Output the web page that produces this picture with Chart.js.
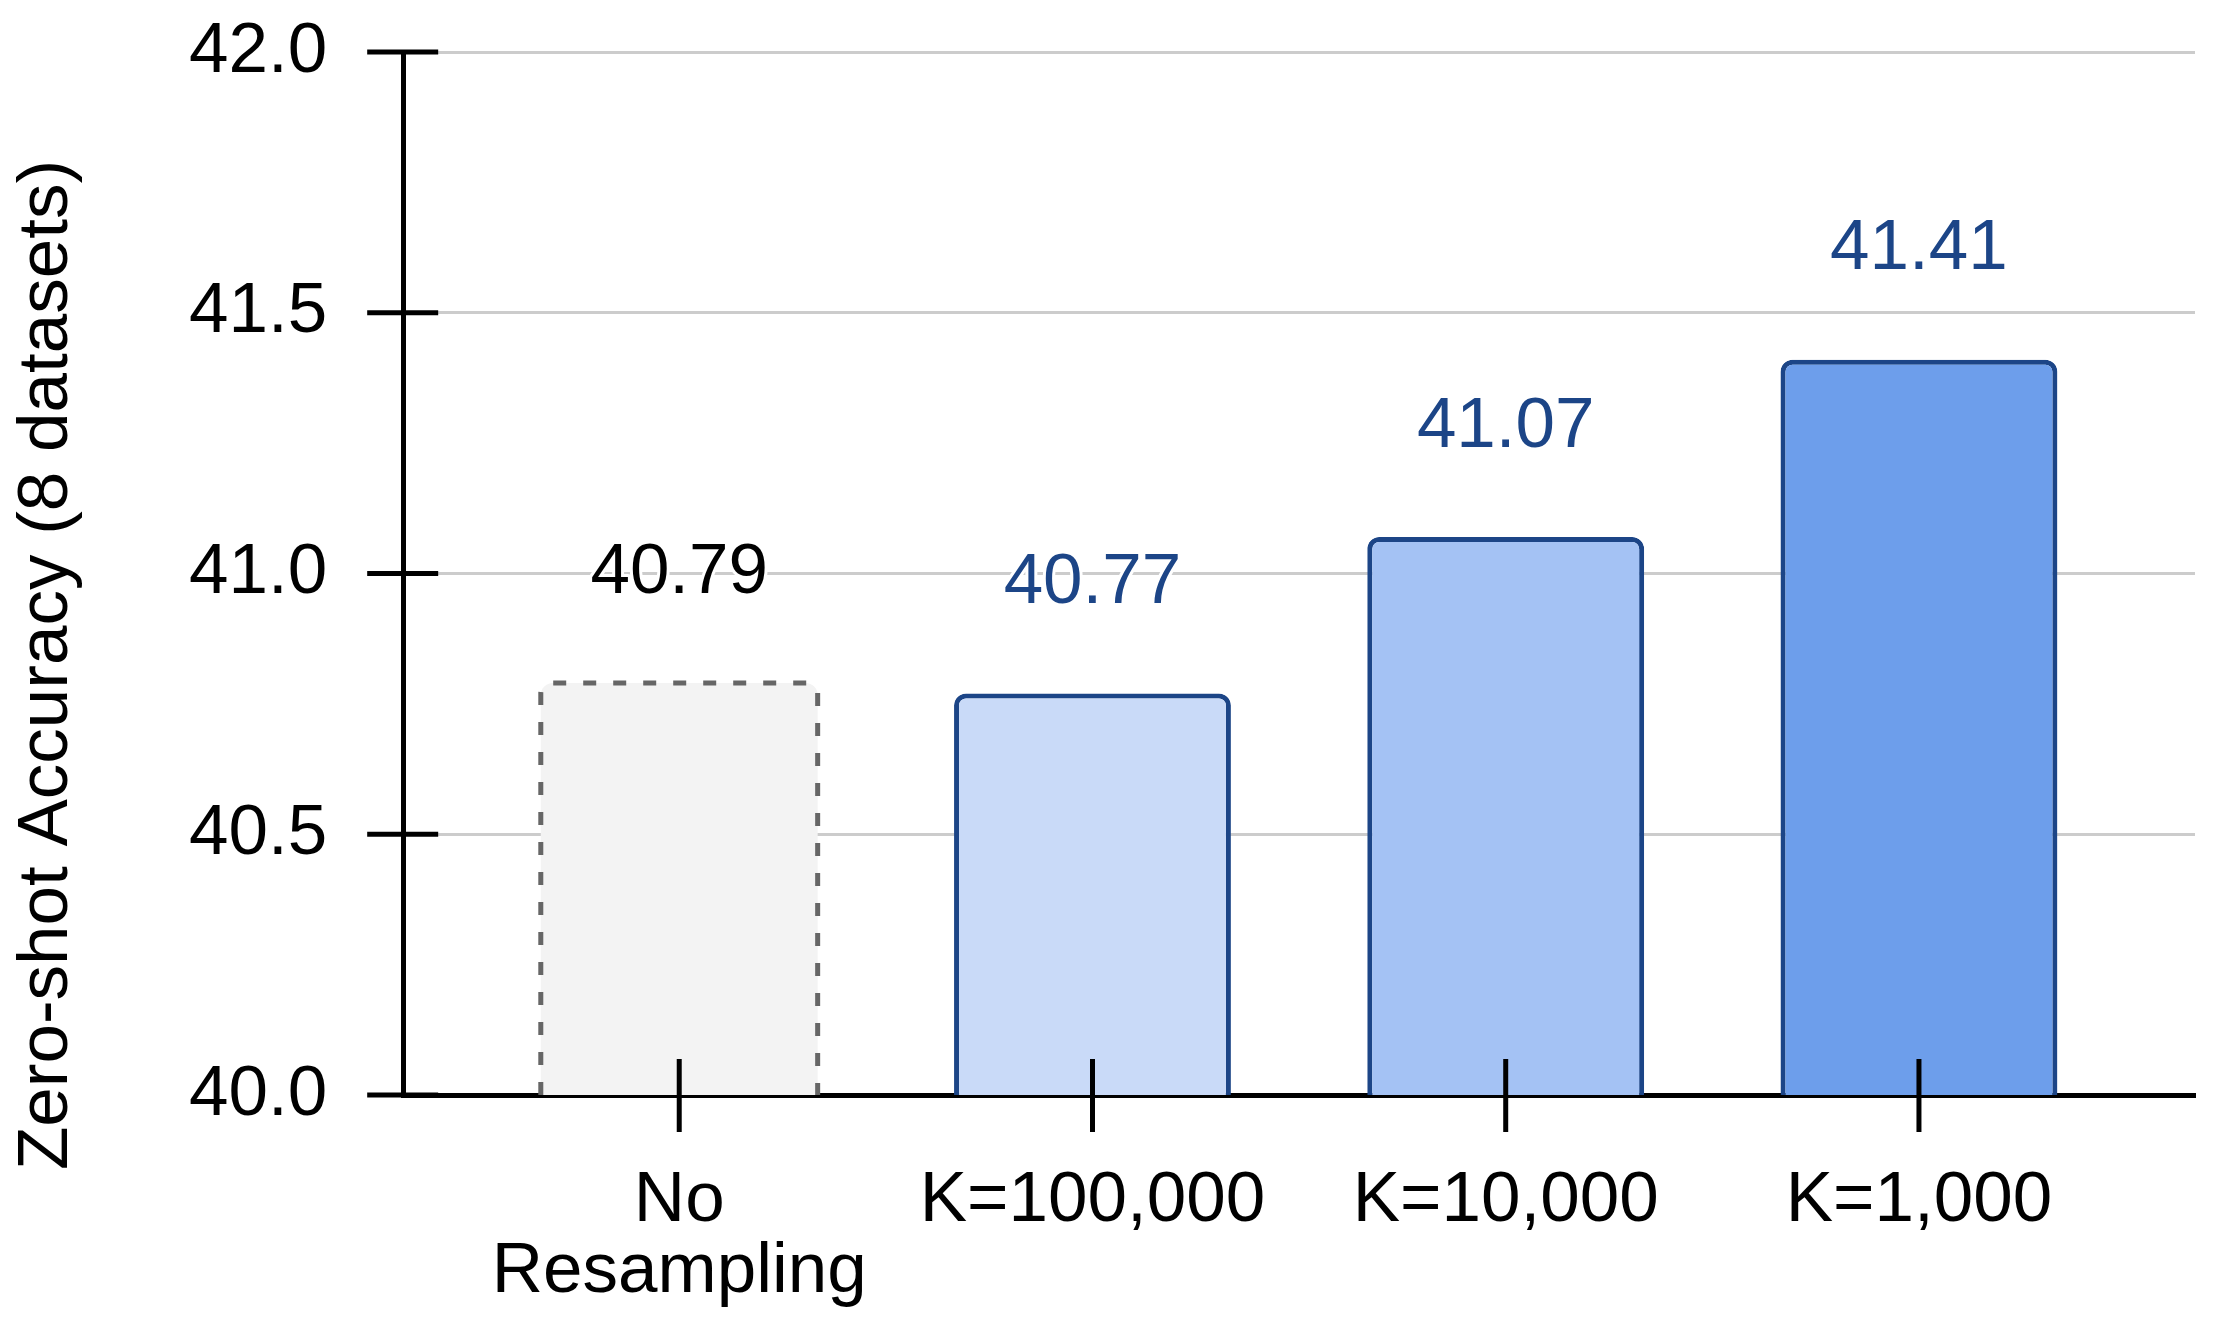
<!DOCTYPE html>
<html>
<head>
<meta charset="utf-8">
<script src="https://cdn.jsdelivr.net/npm/chart.js@4"></script>
<style>
  html, body { margin: 0; padding: 0; background: #ffffff; }
</style>
</head>
<body>
<canvas id="accChart" width="2218" height="1330"></canvas>
<script>
// データ
const labels = [['No', 'Resampling'], 'K=100,000', 'K=10,000', 'K=1,000'];
const accuracy = [40.79, 40.77, 41.07, 41.41];
const yTicks = [40.0, 40.5, 41.0, 41.5, 42.0];
const yTitle = 'Zero-shot Accuracy (8 datasets)';

// 見た目
const FONT = '"Liberation Sans", Arial, Helvetica, sans-serif';
const fillColors = ['#f3f3f3', '#c9daf8', '#a4c2f4', '#6d9eeb'];
const borderColors = ['rgba(0,0,0,0)', '#1c4587', '#1c4587', '#1c4587'];
const borderWidths = [0, 5, 5, 5];
const valueColors = ['#000000', '#1c4587', '#1c4587', '#1c4587'];

// 破線の枠・数値ラベル・軸の目盛り・y軸タイトル
const decorPlugin = {
    id: 'decor',
    afterDatasetsDraw(chart) {
        const ctx = chart.ctx;
        const area = chart.chartArea;
        const meta = chart.getDatasetMeta(0);

        // "No Resampling" は破線の枠
        const b = meta.data[0].getProps(['x', 'y', 'base', 'width'], true);
        const l = b.x - b.width / 2, r = b.x + b.width / 2, rad = 10;
        const base = Math.min(b.base, area.bottom);
        ctx.save();
        ctx.strokeStyle = '#666666';
        ctx.lineWidth = 5;
        ctx.setLineDash([13, 17]);
        ctx.beginPath();
        ctx.moveTo(l, base);
        ctx.lineTo(l, b.y + rad);
        ctx.arcTo(l, b.y, l + rad, b.y, rad);
        ctx.lineTo(r - rad, b.y);
        ctx.arcTo(r, b.y, r, b.y + rad, rad);
        ctx.lineTo(r, base);
        ctx.stroke();
        ctx.restore();

        // 数値ラベル
        ctx.save();
        ctx.font = `71px ${FONT}`;
        ctx.textAlign = 'center';
        ctx.textBaseline = 'middle';
        ctx.lineJoin = 'round';
        meta.data.forEach((bar, i) => {
            const p = bar.getProps(['x', 'y'], true);
            const txt = accuracy[i].toFixed(2);
            ctx.strokeStyle = '#ffffff';
            ctx.lineWidth = 6;
            ctx.strokeText(txt, p.x, p.y - 110);
            ctx.fillStyle = valueColors[i];
            ctx.fillText(txt, p.x, p.y - 110);
        });
        ctx.restore();
    },
    afterDraw(chart) {
        const { ctx, chartArea, scales: { x, y } } = chart;
        ctx.save();
        ctx.strokeStyle = '#000000';
        ctx.lineWidth = 5;
        ctx.setLineDash([]);
        // y軸の目盛り（軸をまたぐ）
        yTicks.forEach(v => {
            const py = y.getPixelForValue(v);
            ctx.beginPath();
            ctx.moveTo(chartArea.left - 36, py);
            ctx.lineTo(chartArea.left + 35, py);
            ctx.stroke();
        });
        // x軸の目盛り
        labels.forEach((_, i) => {
            const px = x.getPixelForValue(i);
            ctx.beginPath();
            ctx.moveTo(px, chartArea.bottom - 36);
            ctx.lineTo(px, chartArea.bottom + 37);
            ctx.stroke();
        });
        // y軸タイトル
        ctx.translate(47, 665);
        ctx.rotate(-Math.PI / 2);
        ctx.font = `71px ${FONT}`;
        ctx.fillStyle = '#000000';
        ctx.textAlign = 'center';
        ctx.textBaseline = 'middle';
        ctx.fillText(yTitle, 0, 0);
        ctx.restore();
    }
};

new Chart(document.getElementById('accChart').getContext('2d'), {
    type: 'bar',
    data: {
        datasets: [{
            data: accuracy.map((v, i) => ({ x: i, y: v })),
            backgroundColor: fillColors,
            borderColor: borderColors,
            borderWidth: borderWidths,
            borderRadius: 12,
            borderSkipped: 'start',
            barPercentage: 0.67,
            categoryPercentage: 1.0
        }]
    },
    options: {
        responsive: false,
        animation: false,
        devicePixelRatio: 1,
        layout: { padding: { left: 113, right: 23, top: 52, bottom: 0 } },
        plugins: {
            legend: { display: false },
            tooltip: { enabled: false }
        },
        scales: {
            x: {
                type: 'linear',
                offset: false,
                min: -0.668,
                max: 3.668,
                z: 1,
                afterBuildTicks: s => { s.ticks = labels.map((_, i) => ({ value: i })); },
                afterFit: s => { s.height = 235; s.paddingLeft = 0; s.paddingRight = 0; },
                grid: { display: false, drawTicks: false },
                border: { display: true, color: '#000000', width: 5 },
                ticks: {
                    autoSkip: false,
                    maxRotation: 0,
                    padding: 71,
                    color: '#000000',
                    font: { family: FONT, size: 71, lineHeight: 1.0 },
                    callback: v => labels[v]
                }
            },
            y: {
                min: 40,
                max: 42,
                afterBuildTicks: s => { s.ticks = yTicks.map(v => ({ value: v })); },
                afterFit: s => { s.paddingTop = 0; s.paddingBottom = 0; },
                grid: { color: '#cccccc', lineWidth: 3, drawTicks: false },
                border: { display: true, color: '#000000', width: 5 },
                ticks: {
                    padding: 76,
                    color: '#000000',
                    font: { family: FONT, size: 71 },
                    callback: v => v.toFixed(1)
                }
            }
        }
    },
    plugins: [decorPlugin]
});
</script>
</body>
</html>
